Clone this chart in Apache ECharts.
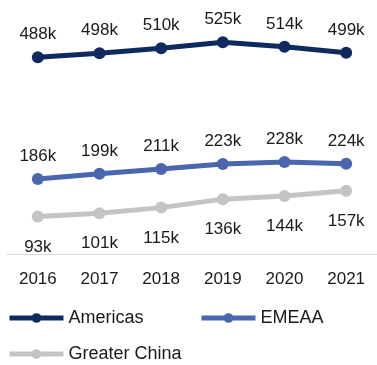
<!DOCTYPE html>
<html>
<head>
<meta charset="utf-8">
<script src="https://cdn.jsdelivr.net/npm/echarts@6/dist/echarts.min.js"></script>
<style>
  html, body { margin: 0; padding: 0; background: #ffffff; }
  #chart { width: 377px; height: 365px; }
</style>
</head>
<body>
<div id="chart"></div>
<script>
// Yearly figures by region, in thousands
const years = ['2016', '2017', '2018', '2019', '2020', '2021'];
const americas = [488, 498, 510, 525, 514, 499];
const emeaa = [186, 199, 211, 223, 228, 224];
const greaterChina = [93, 101, 115, 136, 144, 157];

const FONT = 'Liberation Sans, Arial, sans-serif';
const TEXT = '#1a1a1a';

function lineSeries(name, data, color, labelPos) {
  return {
    name: name,
    type: 'line',
    data: data,
    symbol: 'circle',
    symbolSize: 12,
    lineStyle: { color: color, width: 5 },
    itemStyle: { color: color },
    label: {
      show: true,
      position: labelPos,
      distance: labelPos === 'top' ? 8 : 16,
      fontFamily: FONT,
      fontSize: 17,
      color: TEXT,
      formatter: p => p.value + 'k'
    },
    emphasis: { disabled: true },
    animation: false
  };
}

function legendAt(name, left, top) {
  return {
    data: [name],
    left: left,
    top: top,
    itemWidth: 54,
    itemHeight: 12,
    itemGap: 0,
    padding: 0,
    selectedMode: false,
    lineStyle: { width: 5 },
    textStyle: { fontFamily: FONT, fontSize: 18, color: TEXT, padding: [0, 0, 0, 0] }
  };
}

const chart = echarts.init(document.getElementById('chart'), null, { renderer: 'canvas' });
chart.setOption({
  backgroundColor: '#ffffff',
  animation: false,
  grid: { left: 7, right: 0, top: 12, bottom: 111, containLabel: false },
  legend: [
    legendAt('Americas', 7, 309),
    legendAt('EMEAA', 199, 309),
    legendAt('Greater China', 7, 345)
  ],
  xAxis: {
    type: 'category',
    data: years,
    boundaryGap: true,
    axisLine: { show: true, lineStyle: { color: '#d9d9d9', width: 1 } },
    axisTick: { show: false },
    axisLabel: { fontFamily: FONT, fontSize: 17, color: TEXT, margin: 17 }
  },
  yAxis: {
    type: 'value',
    min: 0,
    max: 600,
    show: false,
    splitLine: { show: false }
  },
  series: [
    lineSeries('Americas', americas, '#0e2a5e', 'top'),
    lineSeries('EMEAA', emeaa, '#4a66ae', 'top'),
    lineSeries('Greater China', greaterChina, '#c4c4c4', 'bottom')
  ]
});
</script>
</body>
</html>
